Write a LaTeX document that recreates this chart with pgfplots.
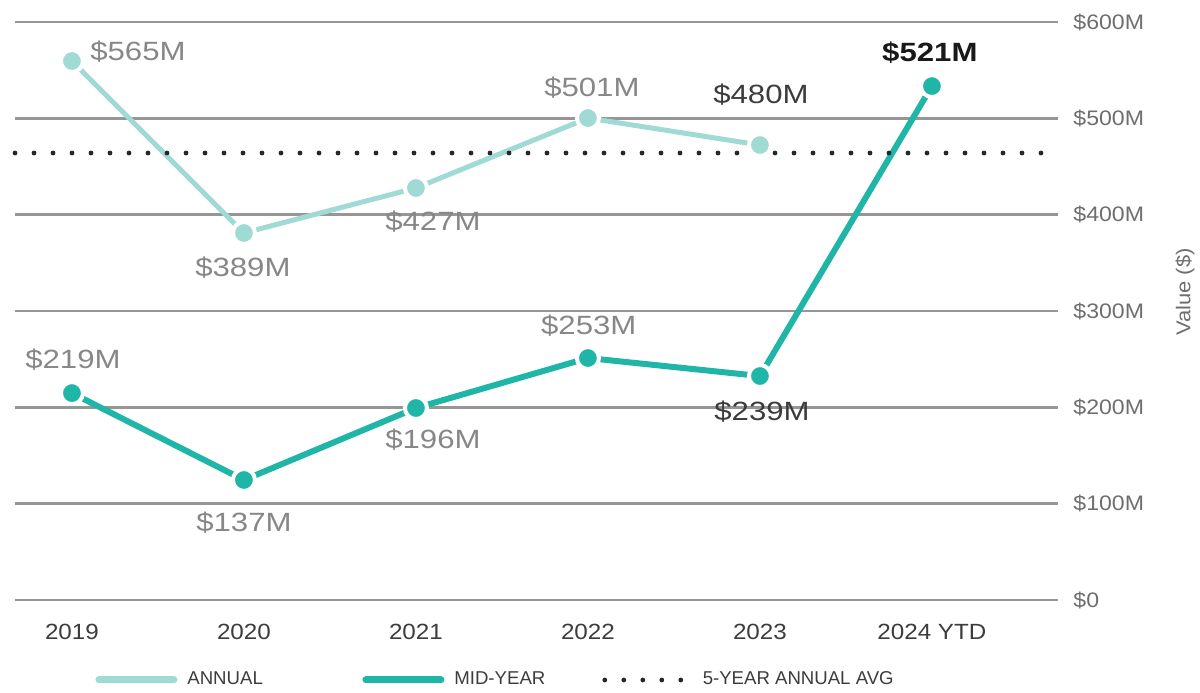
\documentclass[border=0pt]{standalone}
\usepackage{pgfplots}
\pgfplotsset{compat=1.18}
\usepackage{fontspec}
\setmainfont{Liberation Sans}
\newfontfamily\lblfont[FakeStretch=1.18]{Liberation Sans}
\newfontfamily\tkfont[FakeStretch=1.1]{Liberation Sans}

\definecolor{annual}{RGB}{160,218,212}
\definecolor{midyear}{RGB}{31,182,167}
\definecolor{gridgray}{RGB}{150,150,150}
\definecolor{lblgray}{RGB}{135,135,135}
\definecolor{lbldark}{RGB}{60,60,60}
\definecolor{tickgray}{RGB}{110,110,110}

\begin{document}
\begin{tikzpicture}
\path[use as bounding box] (-7.5pt,-46pt) rectangle (592.5pt,300pt);
\begin{axis}[
    at={(0,0)}, anchor=south west,
    scale only axis,
    width=521.5pt, height=289pt,
    xmin=-0.331, xmax=5.733,
    ymin=0, ymax=600,
    clip=false,
    axis line style={draw=none},
    tick style={draw=none},
    major tick length=0pt,
    ymajorgrids=true,
    grid style={line width=1.3pt, gridgray},
    ytick={0,100,200,300,400,500,600},
    yticklabels={\$0,\$100M,\$200M,\$300M,\$400M,\$500M,\$600M},
    yticklabel pos=right,
    yticklabel style={anchor=west, inner sep=0pt, xshift=7.5pt,
        font=\tkfont\fontsize{10.5}{12}\selectfont, text=tickgray},
    xtick={0,1,2,3,4,5},
    xticklabels={2019,2020,2021,2022,2023,2024 YTD},
    xticklabel style={anchor=north, inner sep=0pt, yshift=-12pt,
        font=\tkfont\fontsize{11}{13}\selectfont, text=lbldark},
    /pgf/number format/assume math mode=true,
    legend columns=3,
    legend style={at={(rel axis cs:0.0767,-0.1384)}, anchor=west,
        draw=none, fill=none, inner sep=0pt,
        nodes={inner sep=0pt, anchor=west},
        font=\fontsize{9.3}{11}\selectfont, text=lbldark,
        /tikz/every odd column/.append style={column sep=5pt}},
]
% annual
\addplot[annual, line width=2.5pt, mark=*, mark size=5.5pt,
    mark options={fill=annual, draw=white, line width=2pt},
    legend image code/.code={\draw[annual, line width=3.5pt, line cap=round] (1.75pt,0pt) -- (39.25pt,0pt);}]
    coordinates {(0,559.5)(1,381)(2,427.7)(3,500.3)(4,472.3)};
\addlegendentry{\makebox[87.5pt][l]{ANNUAL}}
% mid-year
\addplot[midyear, line width=3pt, mark=*, mark size=5.5pt,
    mark options={fill=midyear, draw=white, line width=2pt},
    legend image code/.code={\draw[midyear, line width=3.5pt, line cap=round] (1.75pt,0pt) -- (39.25pt,0pt);}]
    coordinates {(0,214.8)(1,124.6)(2,199.3)(3,251.2)(4,232.5)(5,533.5)};
\addlegendentry{\makebox[74pt][l]{MID-YEAR}}
% 5-year annual average
\addplot[black!85, line width=2.4pt, line cap=round, dash pattern=on 0pt off 9.5pt,
    legend image code/.code={\draw[black!85, line width=2.4pt, line cap=round, dash pattern=on 0pt off 9.5pt] (1.2pt,0pt) -- (44pt,0pt);}]
    coordinates {(-0.331,464)(5.733,464)};
\addlegendentry{5-YEAR ANNUAL AVG}

% value labels
\begin{scope}[every node/.style={font=\lblfont\fontsize{13.2}{15}\selectfont, inner sep=0pt}]
\node[text=lblgray] at (axis cs:0.384,568.9) {\$565M};
\node[text=lblgray] at (axis cs:0.994,344.6) {\$389M};
\node[text=lblgray] at (axis cs:2.099,392.4) {\$427M};
\node[text=lblgray] at (axis cs:3.023,531.5) {\$501M};
\node[text=lbldark] at (axis cs:4.006,524.2) {\$480M};
\node[text=lblgray] at (axis cs:0.006,249.1) {\$219M};
\node[text=lblgray] at (axis cs:1.000,79.9) {\$137M};
\node[text=lblgray] at (axis cs:2.099,166.1) {\$196M};
\node[text=lblgray] at (axis cs:3.005,284.4) {\$253M};
\node[text=lbldark] at (axis cs:4.012,195.1) {\$239M};
\node[text=black!90, font=\lblfont\bfseries\fontsize{13.2}{15}\selectfont] at (axis cs:4.988,567.8) {\$521M};
\end{scope}
\node[rotate=90, inner sep=0pt, text=tickgray, font=\tkfont\fontsize{10}{12}\selectfont]
    at (rel axis cs:1.1218,0.533) {Value (\$)};
\end{axis}
\end{tikzpicture}
\end{document}
